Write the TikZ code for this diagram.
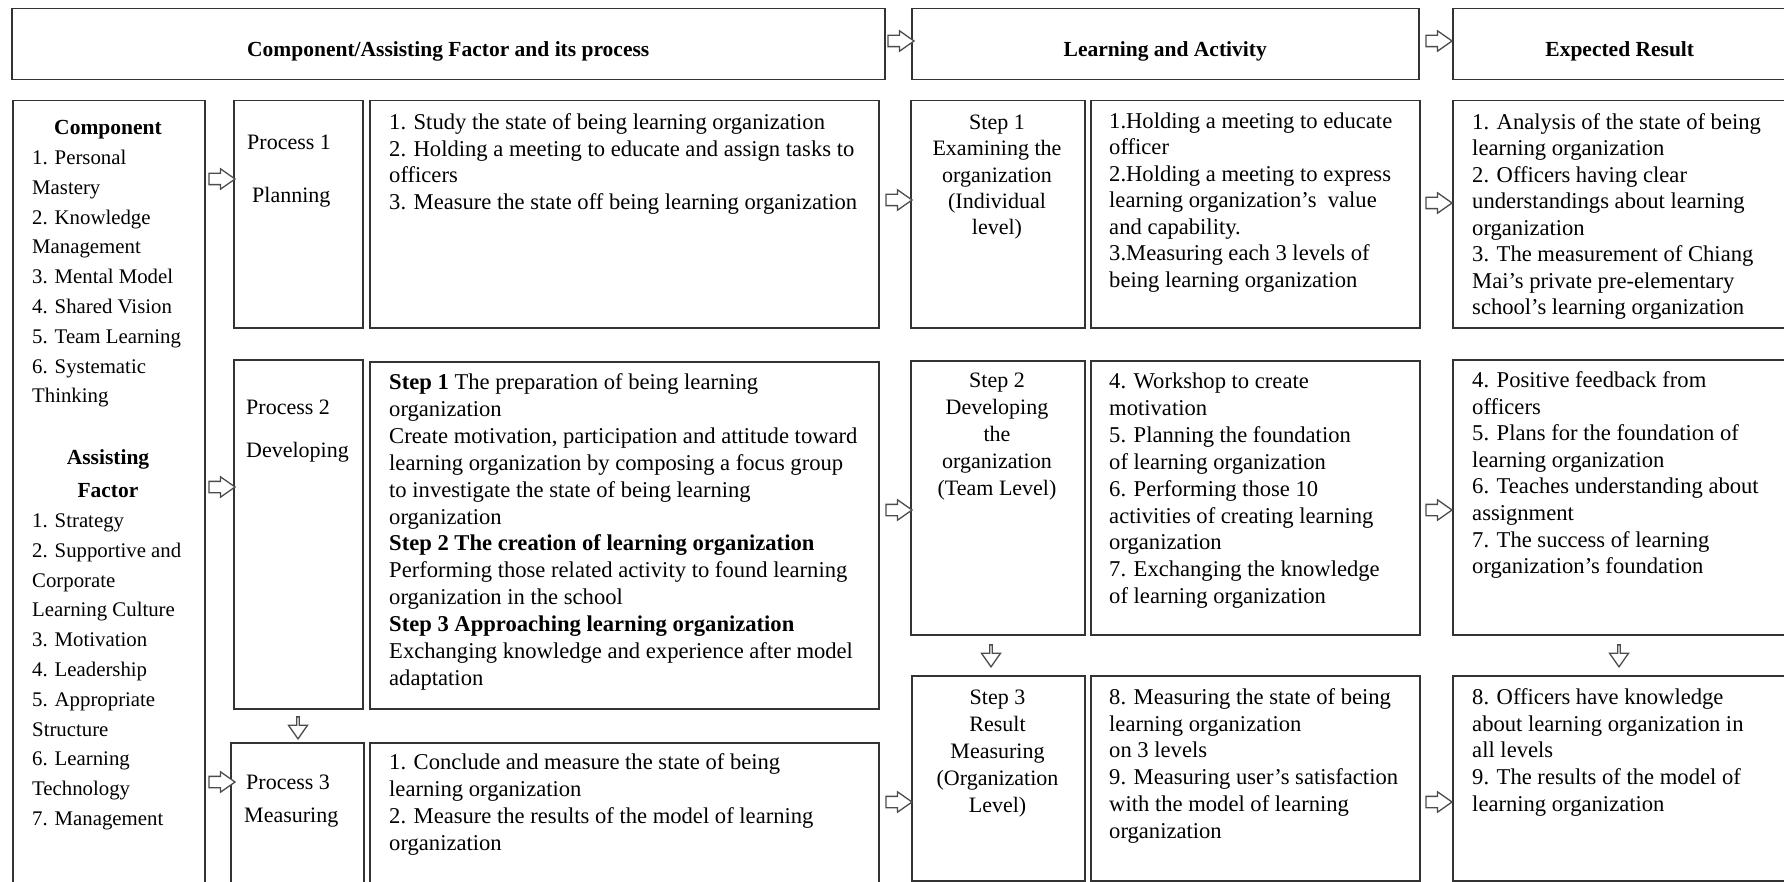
\documentclass[tikz,border=0pt]{standalone}
\usepackage{fontspec}
\setmainfont{Liberation Serif}
\usetikzlibrary{shapes.arrows}
% a block of explicitly broken lines, first baseline at the node's base
\newcommand\txtblock[2]{\parbox[t]{#1}{#2}}
\begin{document}
\begin{tikzpicture}[x=1pt,y=-1pt,
  frame/.style={draw=black!80,line width=1.5pt,anchor=north west,inner sep=0pt},
  headtxt/.style={anchor=mid,inner sep=0pt,font=\fontsize{21.5}{25}\selectfont\bfseries},
  body/.style={anchor=base west,inner sep=0pt,font=\fontsize{22.6}{26.7}\selectfont},
  listtxt/.style={anchor=base west,inner sep=0pt,font=\fontsize{20.8}{29.8}\selectfont},
  listhead/.style={anchor=base,inner sep=0pt,font=\fontsize{21.5}{25}\selectfont\bfseries},
  steptxt/.style={anchor=base,inner sep=0pt,font=\fontsize{22}{26.9}\selectfont},
  proctxt/.style={anchor=base west,inner sep=0pt,font=\fontsize{22}{26}\selectfont},
  rarrow/.style={single arrow,draw=black!70,fill=white,line width=1.3pt,
    inner xsep=0pt,inner ysep=5pt,
    minimum height=26pt,minimum width=19pt,single arrow head extend=4.5pt,
    single arrow tip angle=70},
  darrow/.style={rarrow,shape border rotate=270,minimum height=22pt}
]
\fill[white] (0,0) rectangle (1784,882);
\useasboundingbox (0,0) rectangle (1784,882);

% ---- column headings
\node[frame,minimum width=873pt,minimum height=71pt] (hd1) at (11,8) {};
\node[frame,minimum width=507pt,minimum height=71pt] (hd2) at (911,8) {};
\node[frame,minimum width=334pt,minimum height=71pt] (hd3) at (1452,8) {};
\node[headtxt] (hd1t) at ([yshift=-10pt]hd1.center) {Component/Assisting Factor and its process};
\node[headtxt] (hd2t) at ([yshift=-10pt]hd2.center) {Learning and Activity};
\node[headtxt] (hd3t) at ([yshift=-10pt]hd3.center) {Expected Result};

% ---- boxes
\node[frame,minimum width=192pt,minimum height=820pt] (comp) at (12,100) {};
\node[frame,minimum width=129pt,minimum height=227pt] (pr1) at (233,100) {};
\node[frame,minimum width=509pt,minimum height=227pt] (pc1) at (369,100) {};
\node[frame,minimum width=174pt,minimum height=227pt] (st1) at (910,100) {};
\node[frame,minimum width=329pt,minimum height=227pt] (sc1) at (1090,100) {};
\node[frame,minimum width=340pt,minimum height=227pt] (rs1) at (1452,100) {};

\node[frame,minimum width=129pt,minimum height=349pt] (pr2) at (233,359) {};
\node[frame,minimum width=509pt,minimum height=347pt] (pc2) at (369,361) {};
\node[frame,minimum width=174pt,minimum height=274pt] (st2) at (910,360) {};
\node[frame,minimum width=329pt,minimum height=274pt] (sc2) at (1090,360) {};
\node[frame,minimum width=340pt,minimum height=275pt] (rs2) at (1452,359) {};

\node[frame,minimum width=133pt,minimum height=200pt] (pr3) at (230,742) {};
\node[frame,minimum width=509pt,minimum height=200pt] (pc3) at (369,742) {};
\node[frame,minimum width=173pt,minimum height=205pt] (st3) at (911,675) {};
\node[frame,minimum width=329pt,minimum height=205pt] (sc3) at (1090,675) {};
\node[frame,minimum width=340pt,minimum height=205pt] (rs3) at (1452,675) {};

% ---- block arrows
\node[rarrow] (ah1) at (897,41) {};
\node[rarrow] (ah2) at (1435,41) {};
\node[rarrow] (ac1) at (218,179) {};
\node[rarrow] (ac2) at (218,487) {};
\node[rarrow] (ac3) at (218,782) {};
\node[rarrow] (ap1) at (895,200) {};
\node[rarrow] (ap2) at (895,510) {};
\node[rarrow] (ap3) at (895,802) {};
\node[rarrow] (as1) at (1435,203) {};
\node[rarrow] (as2) at (1435,510) {};
\node[rarrow] (as3) at (1435,802) {};
\node[darrow] (dp) at (298,727) {};
\node[darrow] (ds) at (991,655) {};
\node[darrow] (dr) at (1619,655) {};

% ---- component / assisting factor column
\node[listhead] (cmpH) at (108,135) {Component};
\node[listtxt] (cmpL) at (32,164.5) {\txtblock{170pt}{1. Personal\\Mastery\\2. Knowledge\\Management\\3. Mental Model\\4. Shared Vision\\5. Team Learning\\6. Systematic\\Thinking}};
\node[listhead] (asH1) at (108,464.5) {Assisting};
\node[listhead] (asH2) at (108,497.5) {Factor};
\node[listtxt] (asL) at (32,527.5) {\txtblock{170pt}{1. Strategy\\2. Supportive and\\Corporate\\Learning Culture\\3. Motivation\\4. Leadership\\5. Appropriate\\Structure\\6. Learning\\Technology\\7. Management}};

% ---- processes
\node[proctxt] (p1a) at (247,150) {Process 1};
\node[proctxt] (p1b) at (252,203) {Planning};
\node[proctxt] (p2a) at (246,414.5) {Process 2};
\node[proctxt] (p2b) at (246,457) {Developing};
\node[proctxt] (p3a) at (246,789.5) {Process 3};
\node[proctxt] (p3b) at (244,822.5) {Measuring};

\node[body] (pc1t) at (389,129.5) {\txtblock{480pt}{1. Study the state of being learning organization\\2. Holding a meeting to educate and assign tasks to\\officers\\3. Measure the state off being learning organization}};
\node[body,font=\fontsize{22.6}{26.9}\selectfont] (pc2t) at (389,389.5) {\txtblock{480pt}{\textbf{Step 1} The preparation of being learning\\organization\\Create motivation, participation and attitude toward\\learning organization by composing a focus group\\to investigate the state of being learning\\organization\\\textbf{Step 2 The creation of learning organization}\\Performing those related activity to found learning\\organization in the school\\\textbf{Step 3 Approaching learning organization}\\Exchanging knowledge and experience after model\\adaptation}};
\node[body,font=\fontsize{22.6}{27}\selectfont] (pc3t) at (389,769) {\txtblock{480pt}{1. Conclude and measure the state of being\\learning organization\\2. Measure the results of the model of learning\\organization}};

% ---- learning and activity
\node[steptxt,font=\fontsize{22}{26.3}\selectfont] (st1t) at (997,129.5) {\txtblock{174pt}{\centering Step 1\\Examining the\\organization\\(Individual\\level)}};
\node[body,font=\fontsize{22.6}{26.5}\selectfont] (sc1t) at (1109,128.5) {\txtblock{310pt}{1.Holding a meeting to educate\\officer\\2.Holding a meeting to express\\learning organization’s~ value\\and capability.\\3.Measuring each 3 levels of\\being learning organization}};

\node[steptxt] (st2t) at (997,387.5) {\txtblock{174pt}{\centering Step 2\\Developing\\the\\organization\\(Team Level)}};
\node[body,font=\fontsize{22.6}{26.9}\selectfont] (sc2t) at (1109,388.5) {\txtblock{310pt}{4. Workshop to create\\motivation\\5. Planning the foundation\\of learning organization\\6. Performing those 10\\activities of creating learning\\organization\\7. Exchanging the knowledge\\of learning organization}};

\node[steptxt] (st3t) at (997.5,704.5) {\txtblock{174pt}{\centering Step 3\\Result\\Measuring\\(Organization\\Level)}};
\node[body,font=\fontsize{22.6}{26.7}\selectfont] (sc3t) at (1109,704.5) {\txtblock{310pt}{8. Measuring the state of being\\learning organization\\on 3 levels\\9. Measuring user’s satisfaction\\with the model of learning\\organization}};

% ---- expected results
\node[body,font=\fontsize{22.6}{26.5}\selectfont] (rs1t) at (1472,129.5) {\txtblock{310pt}{1. Analysis of the state of being\\learning organization\\2. Officers having clear\\understandings about learning\\organization\\3. The measurement of Chiang\\Mai’s private pre-elementary\\school’s learning organization}};
\node[body,font=\fontsize{22.6}{26.6}\selectfont] (rs2t) at (1472,387.5) {\txtblock{310pt}{4. Positive feedback from\\officers\\5. Plans for the foundation of\\learning organization\\6. Teaches understanding about\\assignment\\7. The success of learning\\organization’s foundation}};
\node[body,font=\fontsize{22.6}{26.7}\selectfont] (rs3t) at (1472,704.5) {\txtblock{310pt}{8. Officers have knowledge\\about learning organization in\\all levels\\9. The results of the model of\\learning organization}};

% redraw the bottom edge of the first result box over its last line
\draw[draw=black!80,line width=1.5pt] (rs1.south west) -- (rs1.south east);
\end{tikzpicture}
\end{document}
